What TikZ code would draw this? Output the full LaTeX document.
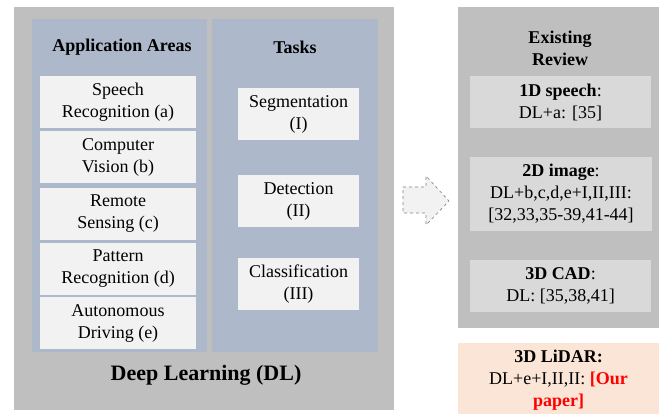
\documentclass[tikz,border=0pt]{standalone}
\usepackage{fontspec}
\setmainfont{Liberation Serif}
\definecolor{outergray}{HTML}{BFBFBF}
\definecolor{panelblue}{HTML}{ADB9CA}
\definecolor{lightbox}{HTML}{F2F2F2}
\definecolor{revbox}{HTML}{D9D9D9}
\definecolor{peach}{HTML}{FBE5D6}
\definecolor{arrowline}{HTML}{808080}
\begin{document}
\begin{tikzpicture}[x=1pt,y=-1pt,
  every node/.style={inner sep=0pt, outer sep=0pt, align=center, font=\fontsize{18}{22}\selectfont},
  appbox/.style={rectangle, fill=lightbox, minimum width=156pt, minimum height=52pt},
  taskbox/.style={rectangle, fill=lightbox, minimum width=121pt, minimum height=52pt},
  revitem/.style={rectangle, fill=revbox, minimum width=181pt, minimum height=52pt},
  header/.style={font=\fontsize{18}{22}\selectfont\bfseries}
]
\useasboundingbox (0,0) rectangle (672,414);
% outer panels
\fill[outergray] (14,7) rectangle (394,410);
\fill[panelblue] (32,19) rectangle (207,352);
\fill[panelblue] (212,19) rectangle (378,352);
\fill[outergray] (458,7) rectangle (659,328);
% headers
\node[header] (apphead) at (122,47) {Application Areas};
\node[header] (taskhead) at (295,47) {Tasks};
\node[font=\fontsize{22}{26}\selectfont\bfseries] (dl) at (206,375) {Deep Learning (DL)};
% application areas
\node[appbox] (speech) at (118,102) {Speech\\Recognition (a)};
\node[appbox] (cv) at (118,157) {Computer\\Vision (b)};
\node[appbox] (rs) at (118,214) {Remote\\Sensing (c)};
\node[appbox] (pr) at (118,269) {Pattern\\Recognition (d)};
\node[appbox] (ad) at (118,323) {Autonomous\\Driving (e)};
% tasks
\node[taskbox] (seg) at (298.5,114) {Segmentation\\(I)};
\node[taskbox] (det) at (298.5,201) {Detection\\(II)};
\node[taskbox] (cls) at (298.5,284) {Classification\\(III)};
% arrow
\draw[arrowline, dashed, fill=lightbox, line width=0.6pt]
  (403,187) -- (426,187) -- (426,176) -- (449,201) -- (426,225) -- (426,213) -- (403,213) -- cycle;
% review
\node[header] (revhead) at (560,48) {Existing\\Review};
\node[revitem] (r1) at (560.5,102) {\textbf{1D speech}:\\DL+a: [35]};
\node[revitem, minimum height=74pt, minimum width=182pt] (r2) at (561,194) {\textbf{2D image}:\\DL+b,c,d,e+I,II,III:\\{}[32,33,35-39,41-44]};
\node[revitem] (r3) at (560.5,286) {\textbf{3D CAD}:\\DL: [35,38,41]};
\fill[peach] (458,343) rectangle (659,414);
\node (lidar) at (558.5,380) {\textbf{3D LiDAR:}\\DL+e+I,II,II: \textcolor{red}{\textbf{[Our}}\\\textcolor{red}{\textbf{paper]}}};
\end{tikzpicture}
\end{document}
